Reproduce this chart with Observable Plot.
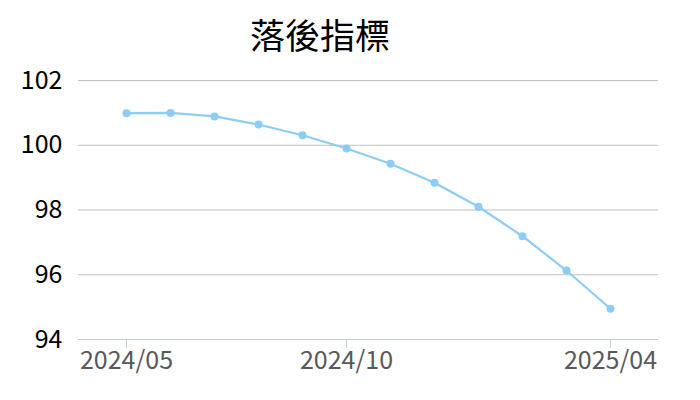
<!DOCTYPE html>
<html>
<head>
<meta charset="utf-8">
<script src="https://cdn.jsdelivr.net/npm/d3@7"></script>
<script src="https://cdn.jsdelivr.net/npm/@observablehq/plot@0.6"></script>
<style>
  html, body { margin: 0; padding: 0; background: #fff; width: 700px; height: 400px; overflow: hidden; }
  #title { position: relative; height: 60px; font-family: "Noto Sans CJK TC", sans-serif; font-size: 35px; color: #000; }
  #title span { position: absolute; left: 320px; top: 16px; transform: translateX(-50%); line-height: 1; white-space: nowrap; }
</style>
</head>
<body>
<div id="title"><span>落後指標</span></div>
<div id="chart"></div>
<script>
const months = ["2024/05","2024/06","2024/07","2024/08","2024/09","2024/10","2024/11","2024/12","2025/01","2025/02","2025/03","2025/04"];
const values = [100.99, 101.00, 100.89, 100.64, 100.31, 99.90, 99.43, 98.84, 98.10, 97.19, 96.13, 94.95];
const yTicks = [94, 96, 98, 100, 102];
const xTicks = ["2024/05", "2024/10", "2025/04"];

const data = months.map((m, i) => ({month: m, value: values[i]}));
const font = "'Noto Sans CJK TC', sans-serif";
const lineColor = "#8dcdf5";

const chart = Plot.plot({
  width: 700,
  height: 340,
  marginTop: 20,
  marginBottom: 61,
  marginLeft: 78,
  marginRight: 42,
  style: {fontFamily: font, background: "#fff", overflow: "visible"},
  x: {type: "point", domain: months, padding: 1.09},
  y: {domain: [94, 102]},
  marks: [
    Plot.gridY(yTicks, {stroke: "#c0c0c0", strokeOpacity: 1, strokeWidth: 1}),
    Plot.ruleY([94], {stroke: "#c3cedb", strokeWidth: 1}),
    Plot.axisY(yTicks, {tickSize: 0, tickPadding: 16, fontSize: 25, fill: "#000", label: null}),
    Plot.axisX(xTicks, {tickSize: 9, tickPadding: 3, fontSize: 25, fill: "#595959", stroke: "#c3cedb", label: null}),
    Plot.line(data, {x: "month", y: "value", stroke: lineColor, strokeWidth: 2.2}),
    Plot.dot(data, {x: "month", y: "value", fill: lineColor, r: 4})
  ]
});
document.getElementById("chart").appendChild(chart);
</script>
</body>
</html>
